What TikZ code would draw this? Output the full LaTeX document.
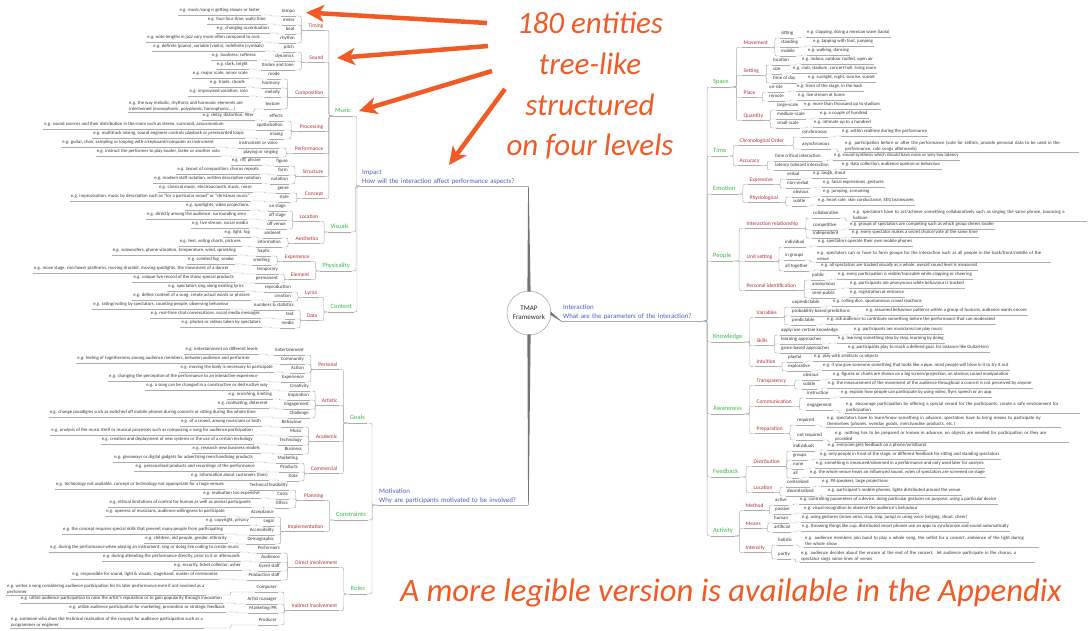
\documentclass[tikz,border=0pt]{standalone}
\usepackage{fontspec}
\setmainfont{Carlito}
\usetikzlibrary{calc,arrows.meta}

\definecolor{c1}{RGB}{72,96,186}
\definecolor{c2}{RGB}{58,186,72}
\definecolor{c3}{RGB}{176,44,52}
\definecolor{c4}{RGB}{55,55,55}
\definecolor{linec}{RGB}{172,172,172}
\definecolor{trunkc}{RGB}{115,115,115}
\definecolor{orange1}{RGB}{241,90,36}

\tikzset{
  uline/.style={draw=linec, line width=0.45pt},
  tbase/.style={inner xsep=1pt, inner ysep=0.8pt, text depth=0.22em, text height=0.72em},
  lv1/.style={inner xsep=2pt, inner ysep=1pt, font=\fontsize{6.9}{9.5}\selectfont, text=c1, align=left},
  lv2/.style={tbase, inner xsep=2pt, font=\fontsize{6.5}{7}\selectfont, text=c2},
  lv3/.style={tbase, inner xsep=1.5pt, font=\fontsize{5.45}{6}\selectfont, text=c3},
  lv4/.style={tbase, font=\fontsize{4.85}{5}\selectfont, text=c4},
  ex/.style={tbase, font=\fontsize{4.75}{5}\selectfont, text=c4},
  exm/.style={ex, text depth={}, text height={}, align=left, font=\fontsize{4.75}{6}\selectfont},
  exw/.style={exm, text width=233pt},
  % curved tree connector, children to the right
  rbr/.style={draw=linec, line width=0.45pt, to path={
    let \p1=(\tikztostart), \p2=(\tikztotarget),
        \n1={(\x1+\x2)/2}, \n2={max(-3pt,min(3pt,(\y2-\y1)/2))}, \n3={abs(\n2)} in
    -- (\n1-\n3,\y1) .. controls (\n1,\y1) .. (\n1,\y1+\n2)
    -- (\n1,\y2-\n2) .. controls (\n1,\y2) .. (\n1+\n3,\y2) -- (\tikztotarget)}},
  % curved tree connector, children to the left
  lbr/.style={draw=linec, line width=0.45pt, to path={
    let \p1=(\tikztostart), \p2=(\tikztotarget),
        \n1={(\x1+\x2)/2}, \n2={max(-3pt,min(3pt,(\y2-\y1)/2))}, \n3={abs(\n2)} in
    -- (\n1+\n3,\y1) .. controls (\n1,\y1) .. (\n1,\y1+\n2)
    -- (\n1,\y2-\n2) .. controls (\n1,\y2) .. (\n1-\n3,\y2) -- (\tikztotarget)}},
  hub/.style={circle, draw=linec, line width=0.6pt, minimum size=44pt, inner sep=0pt,
    align=center, font=\fontsize{7}{9}\selectfont, text=black!85},
  bigtxt/.style={font=\fontsize{31}{40.7}\selectfont\itshape, text=orange1, align=center, inner sep=0pt},
  oarrow/.style={draw=orange1, line width=4.5pt, -{Stealth[length=18pt,width=17pt,inset=5pt]}},
}

% node with underline; anchored at the start (right side) or the end (left side) of the line
\newcommand\NodeR[4]{\node[#2,anchor=south west] (#1) at (#3) {#4};\draw[uline] (#1.south west) -- (#1.south east);}
\newcommand\NodeL[4]{\node[#2,anchor=south east] (#1) at (#3) {#4};\draw[uline] (#1.south west) -- (#1.south east);}
\newcommand\LinkR[2]{\draw[rbr] (#1.south east) to (#2.south west);}
\newcommand\LinkL[2]{\draw[lbr] (#1.south west) to (#2.south east);}
\newcommand\TopR[5]{\NodeR{#2}{lv2}{#3,#4+4}{#5}\LinkR{#1}{#2}}
\newcommand\TopL[5]{\NodeL{#2}{lv2}{#3,#4+4}{#5}\LinkL{#1}{#2}}
\newcommand\MidR[5]{\NodeR{#2}{lv3}{#3,#4+3.5}{#5}\LinkR{#1}{#2}}
\newcommand\MidL[5]{\NodeL{#2}{lv3}{#3,#4+3.5}{#5}\LinkL{#1}{#2}}
\newcommand\LeafR[7]{\NodeR{#2}{lv4}{#3,#4+3}{#5}\NodeR{#2-x}{ex}{#6,#4+2}{#7}\LinkR{#1}{#2}\LinkR{#2}{#2-x}}
\newcommand\LeafL[7]{\NodeL{#2}{lv4}{#3,#4+3}{#5}\NodeL{#2-x}{ex}{#6,#4+2}{#7}\LinkL{#1}{#2}\LinkL{#2}{#2-x}}

\begin{document}
\begin{tikzpicture}[x=1pt,y=-1pt]
\fill[white] (0,0) rectangle (1092,630);
\useasboundingbox (0,0) rectangle (1092,630);

% ---------------- centre ----------------
\node[hub] (tmap) at (529,313) {TMAP\\Framework};
\node[lv1,anchor=south west,text width=164pt] (impact) at (360,186) {Impact\\How will the interaction affect performance aspects?};
\draw[uline] (impact.south west) -- (impact.south east);
\node[lv1,anchor=south west,text width=138pt] (interaction) at (561,321) {Interaction\\What are the parameters of the interaction?};
\draw[uline] (interaction.south west) -- (interaction.south east);
\node[lv1,anchor=south west,text width=147pt] (motiv) at (377,505) {Motivation\\Why are participants motivated to be involved?};
\draw[uline] (motiv.south west) -- (motiv.south east);
\fill[trunkc] ($(tmap.north)+(-1.6,1)$) -- ($(impact.south east)+(-0.3,0)$) -- ($(impact.south east)+(0.3,0)$) -- ($(tmap.north)+(1.6,1)$) -- cycle;
\fill[trunkc] ($(tmap.south)+(-1.6,-1)$) -- ($(motiv.south east)+(-0.3,0)$) -- ($(motiv.south east)+(0.3,0)$) -- ($(tmap.south)+(1.6,-1)$) -- cycle;
\fill[trunkc] ($(tmap.east)+(-1,-1.8)$) -- ($(interaction.south west)+(0,-0.3)$) -- ($(interaction.south west)+(0,0.3)$) -- ($(tmap.east)+(-1,1.8)$) -- cycle;

% ---------------- Impact ----------------
\TopL{impact}{music}{353}{112}{Music}
\MidL{music}{timing}{325}{27}{Timing}
\MidL{music}{sound}{325}{59}{Sound}
\MidL{music}{compo}{325}{94}{Composition}
\MidL{music}{proc}{325}{128}{Processing}
\MidL{music}{perf}{325}{150}{Performance}
\MidL{music}{struct}{325}{173}{Structure}
\MidL{music}{concept}{325}{195}{Concept}
\LeafL{timing}{tempo}{296}{13}{tempo}{261}{e.g. music/song is getting slower or faster}
\LeafL{timing}{meter}{296}{22}{meter}{267}{e.g. four-four time, waltz time}
\LeafL{timing}{beat}{296}{31}{beat}{270}{e.g. changing accentuation}
\LeafL{timing}{rhythm}{296}{40}{rhythm}{261}{e.g. note lengths in jazz vary more often compared to rock}
\LeafL{sound}{pitch}{295}{49}{pitch}{265}{e.g. definite (piano), variable (violin), indefinite (cymbals)}
\LeafL{sound}{dyn}{295}{58}{dynamics}{257}{e.g. loudness, softness}
\LeafL{sound}{timbre}{295}{67}{timbre and tone}{249}{e.g. dark, bright}
\LeafL{compo}{cmode}{281}{76}{mode}{249}{e.g. major scale, minor scale}
\LeafL{compo}{harmony}{281}{85}{harmony}{246}{e.g. triads, chords}
\LeafL{compo}{melody}{281}{94}{melody}{249}{e.g. improvised variation, solo}
\NodeL{texture}{lv4}{281,109}{texture}
\NodeR{texture-x}{exm}{128,112}{e.g. the way melodic, rhythmic and harmonic elements are\\intertwined (monophonic, polyphonic, homophonic,...)}
\LinkL{compo}{texture}\LinkL{texture}{texture-x}
\LeafL{proc}{effects}{284}{118}{effects}{255}{e.g. delay, distortion, filter}
\LeafL{proc}{spat}{284}{127}{spatialization}{225}{e.g. sound sources and their distribution in the room such as stereo, surround, acousmonium}
\LeafL{proc}{mixing}{284}{136}{mixing}{245}{e.g. multitrack mixing, sound engineer controls playback or prerecorded loops}
\LeafL{perf}{instr}{279}{145}{instrument or voice}{215}{e.g. guitar, choir, sampling or looping with a keyboard/computer as instrument}
\LeafL{perf}{playing}{279}{154}{playing or singing}{221}{e.g. instruct the performer to play louder, faster or another solo}
\LeafL{struct}{figure}{289}{163}{figure}{262}{e.g. riff, phrase}
\LeafL{struct}{form}{289}{172}{form}{260}{e.g. layout of composition, chorus repeats}
\LeafL{struct}{notation}{289}{181}{notation}{262}{e.g. modern staff notation, written descriptive notation}
\LeafL{concept}{genre}{290}{190}{genre}{253}{e.g. classical music, electroacoustic music, noise}
\LeafL{concept}{cstyle}{290}{199}{style}{251}{e.g. improvisation, music by description such as “for a particular mood” or “christmas music”}

\TopL{impact}{visuals}{351}{228}{Visuals}
\MidL{visuals}{loc}{320}{218}{Location}
\MidL{visuals}{aesth}{320}{240}{Aesthetics}
\LeafL{loc}{onstage}{287}{208}{on stage}{250}{e.g. spotlights, video projections}
\LeafL{loc}{offstage}{287}{217}{off stage}{247}{e.g. directly among the audience, surrounding area}
\LeafL{loc}{offvenue}{287}{226}{off venue}{249}{e.g. live stream, social media}
\LeafL{aesth}{ambient}{282}{235}{ambient}{251}{e.g. light, fog}
\LeafL{aesth}{info}{282}{244}{information}{242}{e.g. text, voting charts, pictures}

\TopL{impact}{phys}{352}{267}{Physicality}
\MidL{phys}{exper}{311}{258}{Experience}
\MidL{phys}{element}{311}{276}{Element}
\LeafL{exper}{haptic}{271}{253}{haptic}{237}{e.g. subwoofers, phone vibration, temperature, wind, sprinkling}
\LeafL{exper}{smell}{271}{262}{smelling}{235}{e.g. scented fog, smoke}
\LeafL{element}{temp}{279}{271}{temporary}{230}{e.g. move stage, rise/lower platforms, moving drumkit, moving spotlights, the movement of a dancer}
\LeafL{element}{perm}{279}{280}{permanent}{235}{e.g. unique live record of the show, special products}

\TopL{impact}{content}{354}{308}{Content}
\MidL{content}{lyrics}{319}{294}{Lyrics}
\MidL{content}{data}{319}{317}{Data}
\LeafL{lyrics}{repro}{292}{289}{reproduction}{245}{e.g. spectators sing along existing lyrics}
\LeafL{lyrics}{creation}{292}{298}{creation}{251}{e.g. define content of a song, create actual words or phrases}
\LeafL{data}{numbers}{295}{307}{numbers \& statistics}{230}{e.g. rating/voting by spectators, counting people, observing behaviour}
\LeafL{data}{dtext}{295}{316}{text}{261}{e.g. real-time chat conversations, social media messages}
\LeafL{data}{media}{295}{325}{media}{262}{e.g. photos or videos taken by spectators}

% ---------------- Motivation ----------------
\TopL{motiv}{goals}{367}{419}{Goals}
\MidL{goals}{personal}{339}{366}{Personal}
\MidL{goals}{artistic}{339}{402}{Artistic}
\MidL{goals}{academic}{339}{438}{Academic}
\MidL{goals}{commercial}{339}{470}{Commercial}
\LeafL{personal}{entert}{305}{352}{Entertainment}{259}{e.g. entertainment on different levels}
\LeafL{personal}{community}{305}{361}{Community}{251}{e.g. feeling of togetherness among audience members, between audience and performer}
\LeafL{personal}{action}{305}{370}{Action}{274}{e.g. moving the body is necessary to participate}
\LeafL{personal}{experience}{305}{379}{Experience}{259}{e.g. changing the perception of the performance to an interactive experience}
\LeafL{artistic}{creativity}{310}{388}{Creativity}{269}{e.g. a song can be changed in a constructive or destructive way}
\LeafL{artistic}{inspiration}{310}{397}{Inspiration}{273}{e.g. enriching, limiting}
\LeafL{artistic}{engagement}{310}{406}{Engagement}{269}{e.g. motivating, deterrent}
\LeafL{artistic}{challenge}{310}{415}{Challenge}{257}{e.g. change paradigms such as switched off mobile phones during concerts or sitting during the whole time}
\LeafL{academic}{behaviour}{303}{424}{Behaviour}{262}{e.g. of a crowd, among musicians or both}
\LeafL{academic}{amusic}{303}{433}{Music}{254}{e.g. analysis of the music itself or musical processes such as composing a song for audience participation}
\LeafL{academic}{technology}{303}{442}{Technology}{254}{e.g. creation and deployment of new systems or the use of a certain techology}
\LeafL{academic}{business}{303}{451}{Business}{261}{e.g. research new business models}
\LeafL{commercial}{marketing}{299}{460}{Marketing}{254}{e.g. giveaways or digital gadgets for advertising merchandising products}
\LeafL{commercial}{products}{299}{469}{Products}{256}{e.g. personalised products and recordings of the performance}
\LeafL{commercial}{cdata}{299}{478}{Data}{269}{e.g. information about customers (fans)}

\TopL{motiv}{constr}{368}{516}{Constraints}
\MidL{constr}{planning}{325}{497}{Planning}
\MidL{constr}{implem}{325}{528}{Implementation}
\LeafL{planning}{techfeas}{289}{487}{Technical feasibility}{225}{e.g. technology not available, concept or technology not appropriate for a huge venues}
\LeafL{planning}{costs}{289}{496}{Costs}{261}{e.g. realisation too expensive}
\LeafL{planning}{ethics}{289}{505}{Ethics}{252}{e.g. ethical limitations of control for human as well as animal participants}
\LeafL{implem}{acceptance}{275}{514}{Acceptance}{226}{e.g. openess of musicians, audience willingness to participate}
\LeafL{implem}{legal}{275}{523}{Legal}{250}{e.g. copyright, privacy}
\LeafL{implem}{access}{275}{532}{Accessibility}{224}{e.g. the concept requires special skills that prevent many people from participating}
\LeafL{implem}{demo}{275}{541}{Demographic}{228}{e.g. children, old people, gender, ethnicity}

\TopL{motiv}{roles}{367}{590}{Roles}
\MidL{roles}{direct}{339}{564}{Direct involvement}
\MidL{roles}{indirect}{339}{607}{Indirect involvement}
\LeafL{direct}{performers}{281}{550}{Performers}{240}{e.g. during the performance when playing an instrument, sing or doing live coding to create music}
\LeafL{direct}{audience}{281}{559}{Audience}{241}{e.g. during attending the performance directly, prior to it or afterwards}
\LeafL{direct}{eventstaff}{281}{568}{Event staff}{242}{e.g. security, ticket collector, usher}
\LeafL{direct}{prodstaff}{281}{577}{Production staff}{219}{e.g. responsible for sound, light \& visuals, stagehand, master of ceremonies}
\NodeL{composer}{lv4}{278,592}{Composer}
\NodeR{composer-x}{exm}{6,595}{e.g. writes a song considering audience participation for its later performance even if not involved as a\\performer}
\LinkL{indirect}{composer}\LinkL{composer}{composer-x}
\LeafL{indirect}{artistman}{278}{601}{Artist manager}{223}{e.g. utilize audience participation to raise the artist's reputation or to gain popularity through innovation}
\LeafL{indirect}{mktpr}{278}{610}{Marketing/PR}{226}{e.g. utilize audience participation for marketing, promotion or strategic feedback}
\NodeL{producer}{lv4}{278,625}{Producer}
\NodeR{producer-x}{exm}{10,628}{e.g. someone who does the technical realisation of the concept for audience participation such as a\\programmer or engineer}
\LinkL{indirect}{producer}\LinkL{producer}{producer-x}

% ---------------- Interaction ----------------
\TopR{interaction}{space}{711}{83}{Space}
\MidR{space}{movement}{742}{44}{Movement}
\MidR{space}{setting}{742}{72}{Setting}
\MidR{space}{place}{742}{94}{Place}
\MidR{space}{quantity}{742}{117}{Quantity}
\LeafR{movement}{sitting}{780}{35}{sitting}{806}{e.g. clapping, doing a mexican wave (laola)}
\LeafR{movement}{standing}{780}{44}{standing}{812}{e.g. tapping with foot, jumping}
\LeafR{movement}{mobile}{780}{53}{mobile}{807}{e.g. walking, dancing}
\LeafR{setting}{location}{772}{62}{location}{801}{e.g. indoor, outdoor roofed, open air}
\LeafR{setting}{ssize}{772}{71}{size}{792}{e.g. club, stadium, concert hall, living room}
\LeafR{setting}{timeofday}{772}{80}{time of day}{807}{e.g. sunlight, night, sunrise, sunset}
\LeafR{place}{onsite}{768}{89}{on-site}{796}{e.g. front of the stage, in the back}
\LeafR{place}{remote}{768}{98}{remote}{797}{e.g. live stream at home}
\LeafR{quantity}{large}{776}{107}{large-scale}{803}{e.g. more than thousand up to stadium}
\LeafR{quantity}{medium}{776}{116}{medium-scale}{819}{e.g. a couple of hundred}
\LeafR{quantity}{small}{776}{125}{small-scale}{813}{e.g. intimate up to a hundred}

\TopR{interaction}{time}{711}{152}{Time}
\MidR{time}{chrono}{738}{142}{Chronological Order}
\MidR{time}{accuracy}{738}{162}{Accuracy}
\LeafR{chrono}{sync}{801}{134}{synchronous}{841}{e.g. within realtime during the performance}
\NodeR{async}{lv4}{801,149}{asynchronous}
\NodeR{async-x}{exw}{844,152}{e.g. participation before or after the performance (vote for setlists, provide personal data to be used in the\\performance, rate songs afterwards)}
\LinkR{chrono}{async}\LinkR{async}{async-x}
\LeafR{accuracy}{timecrit}{774}{158}{time critical interaction}{833}{e.g. sound synthesis which should have none or very low latency}
\LeafR{accuracy}{latency}{774}{167}{latency tolerant interaction}{841}{e.g. data collection, audience opinion or behaviour}

\TopR{interaction}{emotion}{711}{190}{Emotion}
\MidR{emotion}{expressive}{748}{181}{Expressive}
\MidR{emotion}{physio}{748}{199}{Physiological}
\LeafR{expressive}{verbal}{786}{176}{verbal}{812}{e.g. laugh, shout}
\LeafR{expressive}{nonverbal}{786}{185}{non-verbal}{822}{e.g. facial expressions, gestures}
\LeafR{physio}{obvious}{792}{194}{obvious}{822}{e.g. jumping, screaming}
\LeafR{physio}{subtle}{792}{203}{subtle}{817}{e.g. heart rate, skin conductance, EEG brainwaves}

\TopR{interaction}{people}{711}{257}{People}
\MidR{people}{interrel}{745}{225}{Interaction relationship}
\MidR{people}{unitset}{745}{258}{Unit setting}
\MidR{people}{persid}{745}{287}{Personal identification}
\NodeR{collab}{lv4}{812,218}{collaborative}
\NodeR{collab-x}{exw}{852,221}{e.g. spectators have to act/achieve something collaboratively such as singing the same phrase, bouncing a\\balloon}
\LinkR{interrel}{collab}\LinkR{collab}{collab-x}
\LeafR{interrel}{compet}{812}{227}{competitive}{849}{e.g. groups of spectators are competing such as which group cheers louder}
\LeafR{interrel}{indep}{812}{235}{independent}{851}{e.g. every spectator makes a secret choice/vote at the same time}
\LeafR{unitset}{individual}{784}{244}{individual}{817}{e.g. spectators operate their own mobile phones}
\NodeR{ingroups}{lv4}{784,260}{in groups}
\NodeR{ingroups-x}{exw}{816,262}{e.g. spectators can or have to form groups for the interaction such as all people in the back/front/middle of the\\venue}
\LinkR{unitset}{ingroups}\LinkR{ingroups}{ingroups-x}
\LeafR{unitset}{alltog}{784}{268}{all together}{820}{e.g. all spectators are tracked visually as a whole, overall sound level is measured}
\LeafR{persid}{public}{811}{277}{public}{837}{e.g. every participation is visible/traceable while clapping or cheering}
\LeafR{persid}{anon}{811}{286}{anonymous}{849}{e.g. participants are anonymous while behaviour is tracked}
\LeafR{persid}{semipub}{811}{295}{semi-public}{849}{e.g. registration at entrance}

\TopR{interaction}{knowledge}{711}{338}{Knowledge}
\MidR{knowledge}{variables}{755}{314}{Variables}
\MidR{knowledge}{skills}{755}{342}{Skills}
\MidR{knowledge}{intuition}{755}{363}{Intuition}
\LeafR{variables}{unpred}{791}{304}{unpredictable}{832}{e.g. rolling dice, spontaneous crowd reactions}
\LeafR{variables}{probab}{791}{313}{probability-based predictions}{865}{e.g. assumed behaviour patterns within a group of humans, audience wants encore}
\LeafR{variables}{pred}{791}{322}{predictable}{826}{e.g. ask audience to contribute something before the performance that can moderated}
\LeafR{skills}{apply}{780}{332}{apply/use certain knowledge}{853}{e.g. participants are musicians/can play music}
\LeafR{skills}{learning}{780}{341}{learning approaches}{837}{e.g. learning something step by step, learning by doing}
\LeafR{skills}{game}{780}{350}{game-based approaches}{847}{e.g. participants play to reach a defined goal, for instance like GuitarHero}
\LeafR{intuition}{playful}{787}{359}{playful}{813}{e.g. play with artefacts or objects}
\LeafR{intuition}{explor}{787}{368}{explorative}{822}{e.g. if you give someone something that looks like a pipe, most people will blow in it to try it out}

\TopR{interaction}{awareness}{711}{410}{Awareness}
\MidR{awareness}{transp}{755}{382}{Transparency}
\MidR{awareness}{commun}{755}{403}{Communication}
\MidR{awareness}{prep}{755}{430}{Preparation}
\LeafR{transp}{aobvious}{802}{377}{obvious}{832}{e.g. figures or charts are shown on a big screen/projection, an obvious sound manipulation}
\LeafR{transp}{asubtle}{802}{386}{subtle}{827}{e.g. the measurement of the movement of the audience throughout a concert is not perceived by anyone}
\LeafR{commun}{instruction}{806}{395}{instruction}{840}{e.g. explain how people can participate by using video, flyer, speech or an app}
\NodeR{engage}{lv4}{806,410}{engagement}
\NodeR{engage-x}{exw}{845,413}{e.g. encourage participation by offering a special record for the participants, create a safe environment for\\participation}
\LinkR{commun}{engage}\LinkR{engage}{engage-x}
\NodeR{required}{lv4}{796,425}{required}
\NodeR{required-x}{exw}{826,427}{e.g. spectators have to learn/know something in advance, spectators have to bring means to participate by\\themselves (phones, everday goods, merchandise products, etc.)}
\LinkR{prep}{required}\LinkR{required}{required-x}
\NodeR{notreq}{lv4}{796,440}{not required}
\NodeR{notreq-x}{exw}{834,442}{e.g. nothing has to be prepared or known in advance, no objects are needed for participation or they are\\provided}
\LinkR{prep}{notreq}\LinkR{notreq}{notreq-x}

\TopR{interaction}{feedback}{711}{473}{Feedback}
\MidR{feedback}{distrib}{752}{463}{Distribution}
\MidR{feedback}{floc}{752}{489}{Location}
\LeafR{distrib}{indiv}{792}{448}{individuals}{827}{e.g. everyone gets feedback on a phone/wristband}
\LeafR{distrib}{groups}{792}{457}{groups}{819}{e.g. only people in front of the stage, or different feedback for sitting and standing spectators}
\LeafR{distrib}{fnone}{792}{466}{none}{815}{e.g. something is measured/observed in a performance and only used later for analysis}
\LeafR{distrib}{fall}{792}{475}{all}{809}{e.g. the whole venue hears an influenced sound, votes of spectators are screened on stage}
\LeafR{floc}{central}{786}{484}{centralized}{821}{e.g. PA speakers, large projections}
\LeafR{floc}{decentral}{786}{493}{decentralized}{827}{e.g. participant's mobile phones, lights distributed around the venue}

\TopR{interaction}{activity}{711}{532}{Activity}
\MidR{activity}{method}{744}{507}{Method}
\MidR{activity}{means}{744}{525}{Means}
\MidR{activity}{intensity}{744}{549}{Intensity}
\LeafR{method}{active}{774}{502}{active}{799}{e.g. controlling parameters of a device, doing particular gestures on purpose, using a particular device}
\LeafR{method}{passive}{774}{511}{passive}{803}{e.g. visual recognition to observe the audience's behaviour}
\LeafR{means}{human}{773}{520}{human}{801}{e.g. using gestures (move arms, clap, snip, jump) or using voice (singing, shout, cheer)}
\LeafR{means}{artificial}{773}{529}{artificial}{801}{e.g. throwing things like cup, distributed smart phones use an apps to synchronise and sound automatically}
\NodeR{holistic}{lv4}{777,545}{holistic}
\NodeR{holistic-x}{exw}{804,547}{e.g. audience members join band to play a whole song, the setlist for a concert, ambience of the light during\\the whole show}
\LinkR{intensity}{holistic}\LinkR{holistic}{holistic-x}
\NodeR{partly}{lv4}{777,559}{partly}
\NodeR{partly-x}{exw}{800,562}{e.g. audience decides about the encore at the end of the concert,\ \ let audience participate in the chorus, a\\spectator sings some lines of verses}
\LinkR{intensity}{partly}\LinkR{partly}{partly-x}

% ---------------- annotations ----------------
\node[bigtxt] (note) at (590,86) {180 entities\\tree-like\\structured\\on four levels};
\node[bigtxt,font=\fontsize{32.7}{36}\selectfont\itshape] (legible) at (731,593) {A more legible version is available in the Appendix};
\coordinate (a1s) at (487,23);  \coordinate (a1e) at (306,12.5);
\coordinate (a2s) at (488,46);  \coordinate (a2e) at (337,58);
\coordinate (a3s) at (492,71);  \coordinate (a3e) at (359,111);
\coordinate (a4s) at (505,89);  \coordinate (a4e) at (449,165);
\draw[oarrow] (a1s) -- (a1e);
\draw[oarrow] (a2s) -- (a2e);
\draw[oarrow] (a3s) -- (a3e);
\draw[oarrow] (a4s) -- (a4e);
\end{tikzpicture}
\end{document}
